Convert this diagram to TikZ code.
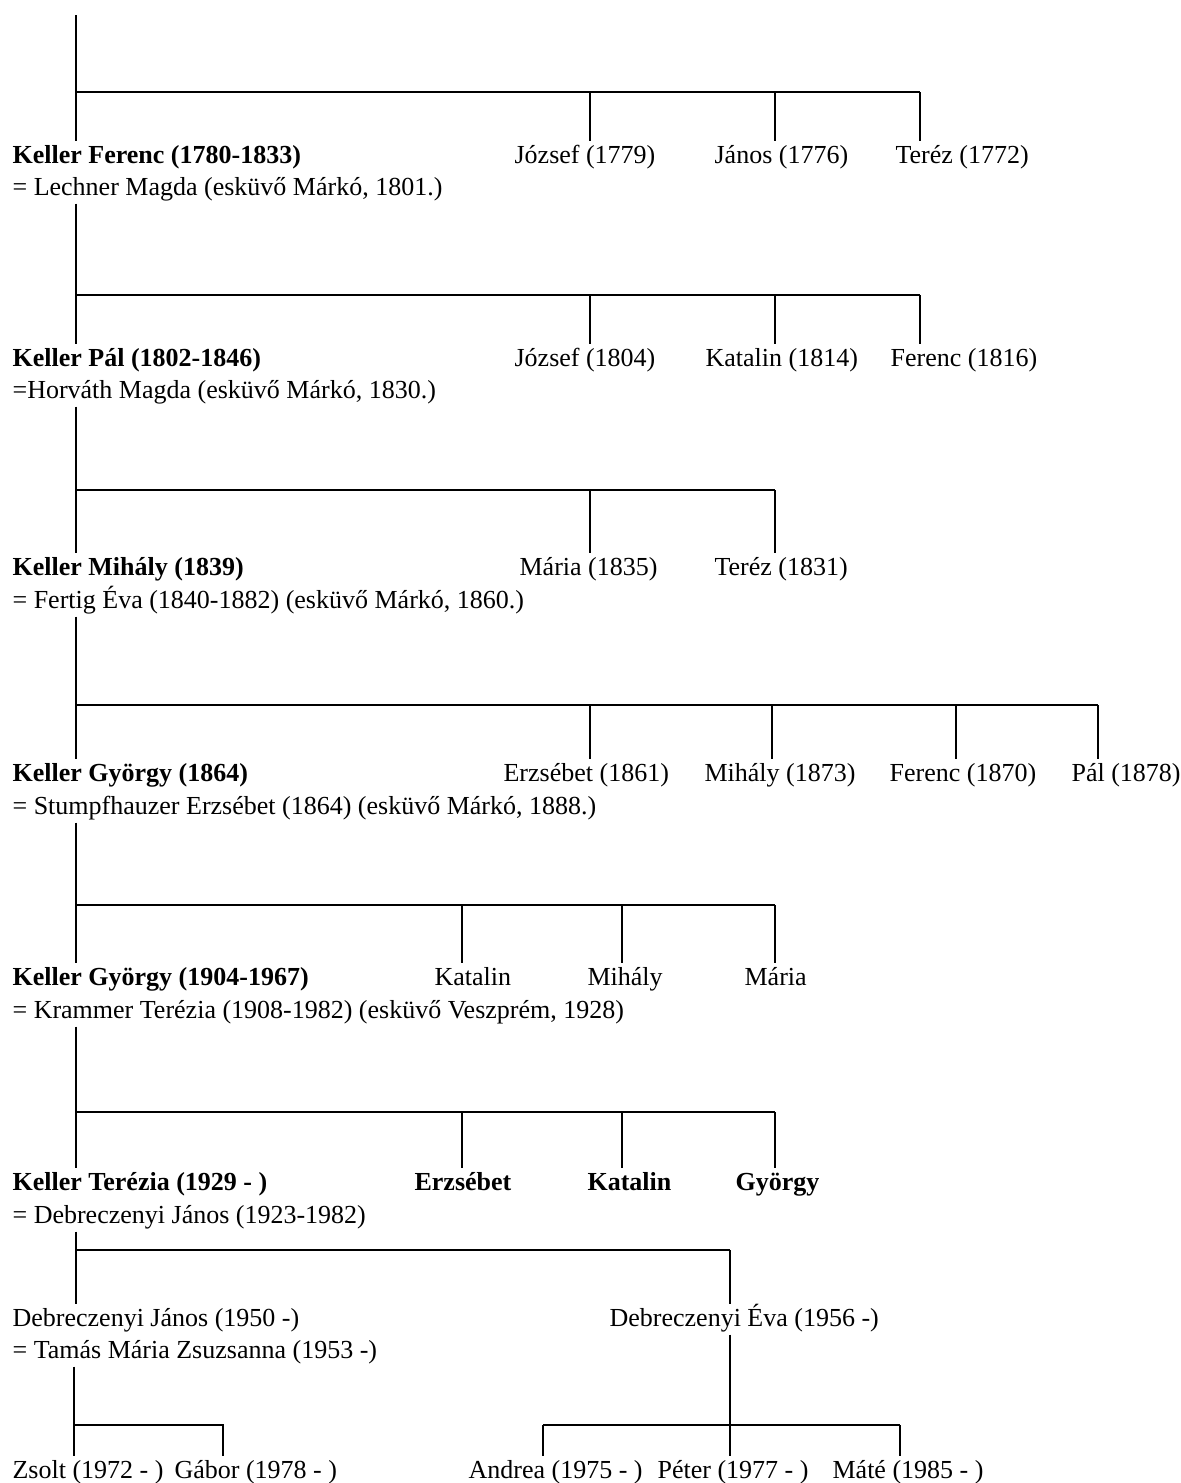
\documentclass[tikz,border=0pt]{standalone}
\usepackage{fontspec}
\setmainfont{Liberation Serif}

\begin{document}
\fontsize{13}{15}\selectfont
\begin{tikzpicture}[x=0.5pt,y=-0.5pt,line width=0.6pt,
  pers/.style={anchor=base west,inner sep=1pt,text height=9.5pt,text depth=3pt},
  main/.style={pers,font=\bfseries}]
  \useasboundingbox (0,0) rectangle (1181,1483);

  \coordinate (top) at (76,15);

  % Keller Ferenc
  \node[main] (p1) at (10,163) {Keller Ferenc (1780-1833)};
  \node[pers] (c11) at (512,163) {József (1779)};
  \node[pers] (c12) at (712,163) {János (1776)};
  \node[pers] (c13) at (893,163) {Teréz (1772)};
  \node[pers] (s1) at (10,195) {= Lechner Magda (esküvő Márkó, 1801.)};

  \coordinate (b1) at (76,92);
  \coordinate (d11) at (590,92);
  \coordinate (d12) at (775,92);
  \coordinate (d13) at (920,92);
  \draw (top) -- (top |- p1.north);
  \draw (b1) -- (d13);
  \foreach \d/\c in {d11/c11,d12/c12,d13/c13}
    \draw (\d) -- (\d |- \c.north);

  % Keller Pal
  \node[main] (p2) at (10,366) {Keller Pál (1802-1846)};
  \node[pers] (c21) at (512,366) {József (1804)};
  \node[pers] (c22) at (703,366) {Katalin (1814)};
  \node[pers] (c23) at (888,366) {Ferenc (1816)};
  \node[pers] (s2) at (10,398) {=Horváth Magda (esküvő Márkó, 1830.)};

  \coordinate (b2) at (76,295);
  \coordinate (d21) at (590,295);
  \coordinate (d22) at (775,295);
  \coordinate (d23) at (920,295);
  \draw (s1.south -| top) -- (top |- p2.north);
  \draw (b2) -- (d23);
  \foreach \d/\c in {d21/c21,d22/c22,d23/c23}
    \draw (\d) -- (\d |- \c.north);

  % Keller Mihaly
  \node[main] (p3) at (10,575) {Keller Mihály (1839)};
  \node[pers] (c31) at (517,575) {Mária (1835)};
  \node[pers] (c32) at (712,575) {Teréz (1831)};
  \node[pers] (s3) at (10,608) {= Fertig Éva (1840-1882) (esküvő Márkó, 1860.)};

  \coordinate (b3) at (76,490);
  \coordinate (d31) at (590,490);
  \coordinate (d32) at (775,490);
  \draw (s2.south -| top) -- (top |- p3.north);
  \draw (b3) -- (d32);
  \foreach \d/\c in {d31/c31,d32/c32}
    \draw (\d) -- (\d |- \c.north);

  % Keller Gyorgy (1864)
  \node[main] (p4) at (10,781) {Keller György (1864)};
  \node[pers] (c41) at (501,781) {Erzsébet (1861)};
  \node[pers] (c42) at (702,781) {Mihály (1873)};
  \node[pers] (c43) at (887,781) {Ferenc (1870)};
  \node[pers] (c44) at (1069,781) {Pál (1878)};
  \node[pers] (s4) at (10,814) {= Stumpfhauzer Erzsébet (1864) (esküvő Márkó, 1888.)};

  \coordinate (b4) at (76,705);
  \coordinate (d41) at (590,705);
  \coordinate (d42) at (772,705);
  \coordinate (d43) at (956,705);
  \coordinate (d44) at (1098,705);
  \draw (s3.south -| top) -- (top |- p4.north);
  \draw (b4) -- (d44);
  \foreach \d/\c in {d41/c41,d42/c42,d43/c43,d44/c44}
    \draw (\d) -- (\d |- \c.north);

  % Keller Gyorgy (1904)
  \node[main] (p5) at (10,985) {Keller György (1904-1967)};
  \node[pers] (c51) at (432,985) {Katalin};
  \node[pers] (c52) at (585,985) {Mihály};
  \node[pers] (c53) at (742,985) {Mária};
  \node[pers] (s5) at (10,1018) {= Krammer Terézia (1908-1982) (esküvő Veszprém, 1928)};

  \coordinate (b5) at (76,905);
  \coordinate (d51) at (462,905);
  \coordinate (d52) at (622,905);
  \coordinate (d53) at (775,905);
  \draw (s4.south -| top) -- (top |- p5.north);
  \draw (b5) -- (d53);
  \foreach \d/\c in {d51/c51,d52/c52,d53/c53}
    \draw (\d) -- (\d |- \c.north);

  % Keller Terezia
  \node[main] (p6) at (10,1190) {Keller Terézia (1929 - )};
  \node[main] (c61) at (412,1190) {Erzsébet};
  \node[main] (c62) at (585,1190) {Katalin};
  \node[main] (c63) at (733,1190) {György};
  \node[pers] (s6) at (10,1223) {= Debreczenyi János (1923-1982)};

  \coordinate (b6) at (76,1112);
  \coordinate (d61) at (462,1112);
  \coordinate (d62) at (622,1112);
  \coordinate (d63) at (775,1112);
  \draw (s5.south -| top) -- (top |- p6.north);
  \draw (b6) -- (d63);
  \foreach \d/\c in {d61/c61,d62/c62,d63/c63}
    \draw (\d) -- (\d |- \c.north);

  % Debreczenyi
  \node[pers] (p7) at (10,1326) {Debreczenyi János (1950 -)};
  \node[pers] (eva) at (607,1326) {Debreczenyi Éva (1956 -)};
  \node[pers] (s7) at (10,1358) {= Tamás Mária Zsuzsanna (1953 -)};

  \coordinate (b7) at (76,1250);
  \coordinate (d71) at (730,1250);
  \draw (s6.south -| top) -- (top |- p7.north);
  \draw (b7) -- (d71);
  \draw (d71) -- (d71 |- eva.north);

  % unokak
  \node[pers] (zsolt) at (10,1478) {Zsolt (1972 - )};
  \node[pers] (gabor) at (172,1478) {Gábor (1978 - )};
  \node[pers] (andrea) at (466,1478) {Andrea (1975 - )};
  \node[pers] (peter) at (655,1478) {Péter (1977 - )};
  \node[pers] (mate) at (830,1478) {Máté (1985 - )};

  \coordinate (b8) at (74,1425);
  \coordinate (d81) at (223,1425);
  \draw (s7.south -| b8) -- (b8 |- zsolt.north);
  \draw (b8) -- (d81) -- (d81 |- gabor.north);

  \coordinate (b9) at (543,1425);
  \coordinate (d91) at (730,1425);
  \coordinate (d92) at (900,1425);
  \draw (eva.south -| d91) -- (d91 |- peter.north);
  \draw (b9) -- (d92);
  \draw (b9) -- (b9 |- andrea.north);
  \draw (d92) -- (d92 |- mate.north);

\end{tikzpicture}
\end{document}
